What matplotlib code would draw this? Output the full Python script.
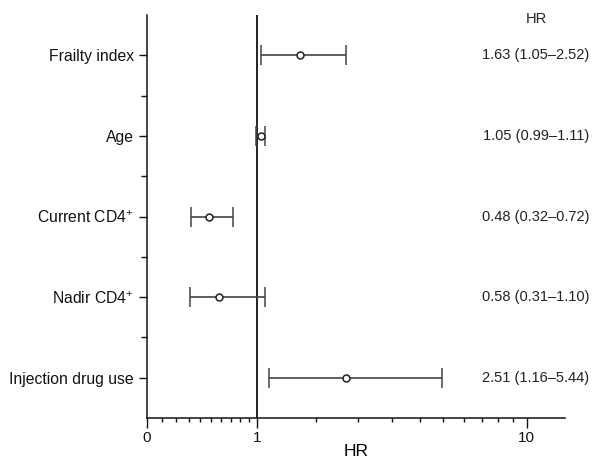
import numpy as np
import matplotlib
matplotlib.use("Agg")
import matplotlib.pyplot as plt
from matplotlib.transforms import blended_transform_factory

plt.rcParams['font.family'] = ['Liberation Sans', 'DejaVu Sans']
plt.rcParams['mathtext.fontset'] = 'custom'
plt.rcParams['mathtext.rm'] = 'Liberation Sans'
plt.rcParams['mathtext.default'] = 'regular'

# data
labels = ['Frailty index', 'Age', 'Current CD4$^{+}$', 'Nadir CD4$^{+}$', 'Injection drug use']
hr = np.array([1.63, 1.05, 0.48, 0.58, 2.51])
lo = np.array([1.05, 0.99, 0.32, 0.31, 1.16])
hi = np.array([2.52, 1.11, 0.72, 1.10, 5.44])
major_ticks = [0, 1, 10]
major_labels = ['0', '1', '10']

fig = plt.figure(figsize=(5.97, 4.62), dpi=100)
ax = fig.add_axes([147 / 597, 1 - 418 / 462, (565 - 147) / 597, (418 - 15) / 462])

# axis is log10(1 + x)
ax.set_xscale('function', functions=(lambda x: np.log10(1 + x), lambda y: 10 ** y - 1))
ax.set_xlim(0, 13)

y = np.arange(len(labels))
ax.set_ylim(len(labels) - 0.5, -0.5)

ax.axvline(1, color='#111111', lw=1.3, zorder=1)
ax.errorbar(hr, y, xerr=[hr - lo, hi - hr], fmt='o', ms=5, mfc='white', mec='#222222',
            mew=1.1, color='#444444', elinewidth=1.2, capsize=7, capthick=1.2, zorder=3)

ax.set_yticks(y)
ax.set_yticklabels(labels, fontsize=11.3)
ax.set_yticks(y[:-1] + 0.5, minor=True)
ax.tick_params(axis='y', which='major', length=6, width=1, direction='out', colors='#111111')
ax.tick_params(axis='y', which='minor', length=4, width=1, direction='out', colors='#111111')

ax.set_xticks(major_ticks)
ax.set_xticklabels(major_labels, fontsize=11)
minor = list(np.arange(1, 10) * 0.1) + list(1 + 0.9 * np.arange(1, 10))
ax.set_xticks(minor, minor=True)
ax.tick_params(axis='x', which='major', length=7, width=1, direction='out', colors='#111111', pad=2)
ax.tick_params(axis='x', which='minor', length=3, width=1, direction='out', colors='#111111')
ax.set_xlabel('HR', fontsize=12.5, labelpad=0)

for s in ['top', 'right']:
    ax.spines[s].set_visible(False)
for s in ['left', 'bottom']:
    ax.spines[s].set_linewidth(1.1)
    ax.spines[s].set_color('#111111')

# HR (95% CI) text column
tr = blended_transform_factory(fig.transFigure, ax.transData)
cx = 536 / 597
ax.text(cx, -0.45, 'HR', transform=tr, ha='center', va='center', fontsize=10.5, color='#222222')
for i in range(len(labels)):
    txt = f'{hr[i]:.2f} ({lo[i]:.2f}\u2013{hi[i]:.2f})'
    ax.text(cx, y[i], txt, transform=tr, ha='center', va='center', fontsize=10.5,
            color='#222222', clip_on=False)

fig.savefig('out.png', dpi=100)
